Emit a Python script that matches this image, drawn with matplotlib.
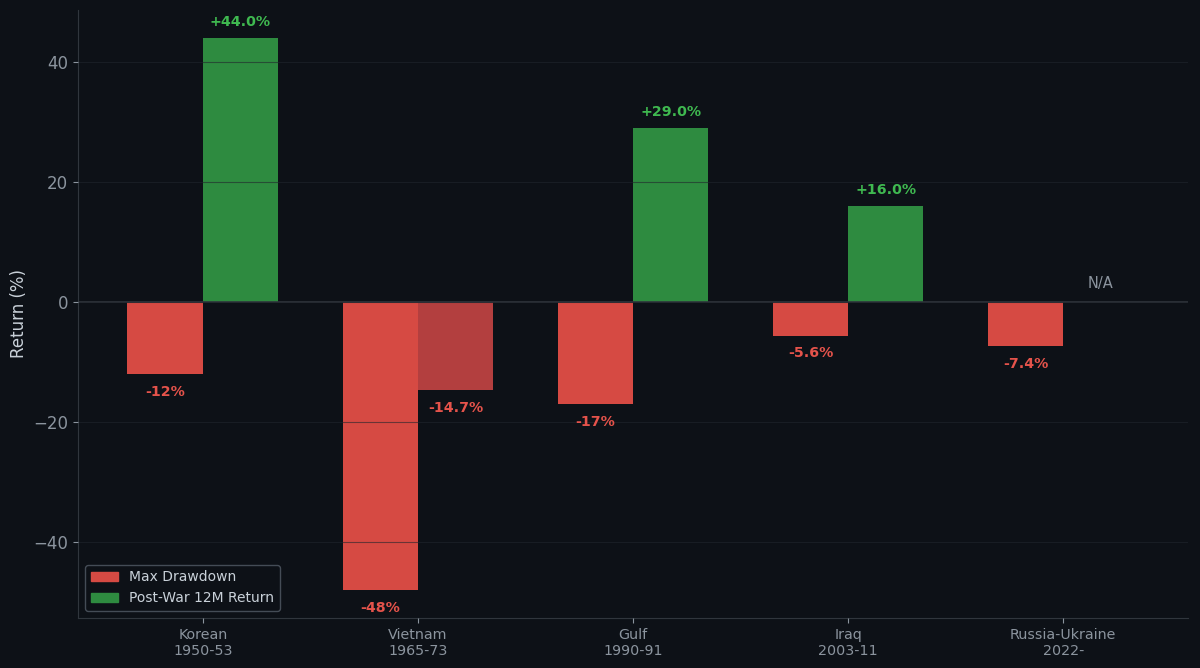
import numpy as np
import matplotlib
matplotlib.use("Agg")
import matplotlib.pyplot as plt
from matplotlib.patches import Patch

wars = ["Korean\n1950-53", "Vietnam\n1965-73", "Gulf\n1990-91", "Iraq\n2003-11", "Russia-Ukraine\n2022-"]
max_drawdown = [-12, -48, -17, -5.6, -7.4]
post_war_return = [44.0, -14.7, 29.0, 16.0, np.nan]
dd_labels = ["-12%", "-48%", "-17%", "-5.6%", "-7.4%"]

BG = "#0d1117"
RED = "#d64a43"
DARKRED = "#b33f3f"
GREEN = "#2e8b40"
RED_TXT = "#e5534b"
GREEN_TXT = "#3fb950"
TICK = "#8b949e"

fig = plt.figure(figsize=(12, 6.68), dpi=100, facecolor=BG)
ax = fig.add_axes([0.065, 0.075, 0.925, 0.91], facecolor=BG)

x = np.arange(len(wars))
w = 0.35
ax.bar(x - w / 2, max_drawdown, w, color=RED, zorder=1)
pcolors = [GREEN if (not np.isnan(v) and v >= 0) else DARKRED for v in post_war_return]
pvals = [0 if np.isnan(v) else v for v in post_war_return]
ax.bar(x + w / 2, pvals, w, color=pcolors, zorder=1)

for i, v in enumerate(max_drawdown):
    ax.text(x[i] - w / 2, v - 1.8, dd_labels[i], ha="center", va="top",
            color=RED_TXT, fontsize=10.2, fontweight="bold")
for i, v in enumerate(post_war_return):
    if np.isnan(v):
        ax.text(x[i] + w / 2, 1.8, "N/A", ha="center", va="bottom", color=TICK, fontsize=10.5)
    elif v >= 0:
        ax.text(x[i] + w / 2, v + 1.5, f"+{v:.1f}%", ha="center", va="bottom",
                color=GREEN_TXT, fontsize=10.2, fontweight="bold")
    else:
        ax.text(x[i] + w / 2, v - 1.8, f"{v:.1f}%", ha="center", va="top",
                color=RED_TXT, fontsize=10.2, fontweight="bold")

ax.axhline(0, color="#30363d", lw=1.2, zorder=2)
ax.set_xlim(-0.58, 4.58)
ax.set_ylim(-52.7, 48.7)
ax.set_xticks(x)
ax.set_xticklabels(wars, color=TICK, fontsize=10.3)
ax.tick_params(axis="y", colors=TICK, labelsize=12)
ax.tick_params(axis="x", colors=TICK)
ax.set_ylabel("Return (%)", color="#c9d1d9", fontsize=12)
ax.yaxis.grid(True, color="#21262d", lw=0.8, alpha=0.6, zorder=3)
ax.set_axisbelow(False)
for s in ["top", "right"]:
    ax.spines[s].set_visible(False)
for s in ["left", "bottom"]:
    ax.spines[s].set_color("#30363d")

handles = [Patch(color=RED, label="Max Drawdown"), Patch(color=GREEN, label="Post-War 12M Return")]
leg = ax.legend(handles=handles, loc="lower left", facecolor=BG, edgecolor="#444c56",
                fontsize=10, labelcolor="#c9d1d9", framealpha=1)

fig.savefig("out.png", dpi=100, facecolor=BG)
